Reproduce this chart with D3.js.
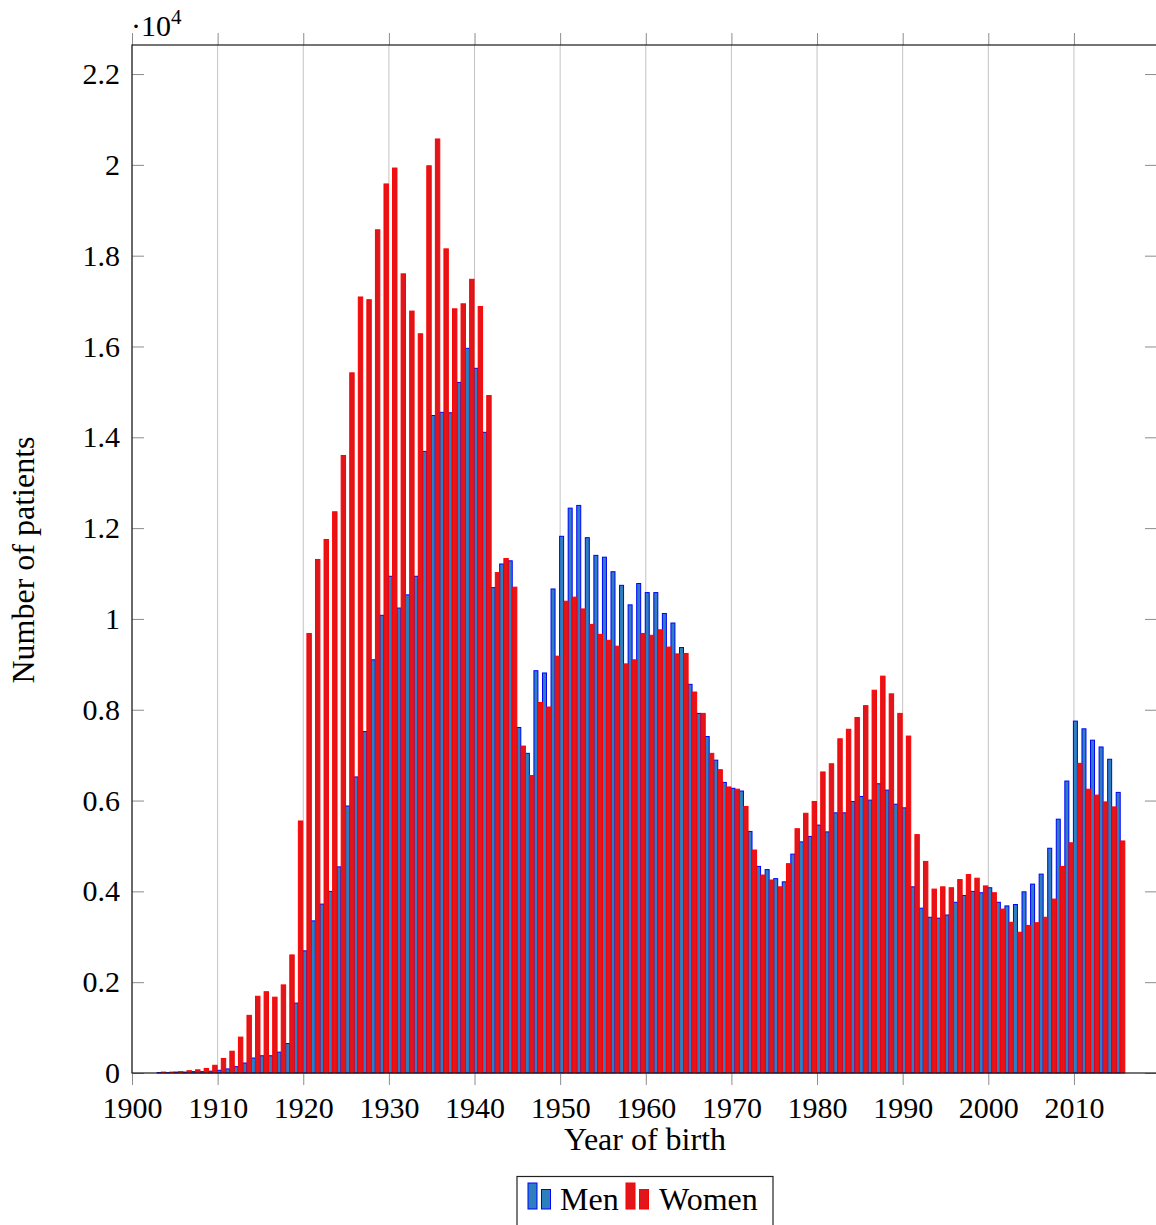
<!DOCTYPE html>
<html>
<head>
<meta charset="utf-8">
<script src="https://cdn.jsdelivr.net/npm/d3@7/dist/d3.min.js"></script>
<style>
	body { margin: 0; background: #fff; }
	svg { display: block; font-family: "Liberation Serif", "DejaVu Serif", serif; }
</style>
</head>
<body>
<svg id="chart" width="1156" height="1225"></svg>
<script>
// data, values in units of 10^4 patients, one entry per year from firstYear
const firstYear = 1904;

const men = [
	0.001, 0.001, 0.002, 0.002, 0.003, 0.003, 0.004, 0.006, 0.009, 0.014, // 1904-1913
	0.022, 0.033, 0.038, 0.038, 0.046, 0.065, 0.154, 0.269, 0.335, 0.372, // 1914-1923
	0.400, 0.454, 0.588, 0.652, 0.752, 0.910, 1.008, 1.094, 1.024, 1.053, // 1924-1933
	1.094, 1.369, 1.448, 1.455, 1.454, 1.521, 1.596, 1.552, 1.411, 1.069, // 1934-1943
	1.121, 1.128, 0.761, 0.704, 0.886, 0.881, 1.066, 1.182, 1.244, 1.250, // 1944-1953
	1.179, 1.140, 1.136, 1.104, 1.074, 1.031, 1.078, 1.058, 1.058, 1.012, // 1954-1963
	0.991, 0.937, 0.856, 0.792, 0.741, 0.689, 0.640, 0.627, 0.621, 0.532, // 1964-1973
	0.455, 0.448, 0.428, 0.421, 0.482, 0.509, 0.521, 0.546, 0.531, 0.573, // 1974-1983
	0.573, 0.598, 0.609, 0.601, 0.637, 0.623, 0.592, 0.584, 0.410, 0.363, // 1984-1993
	0.343, 0.341, 0.348, 0.376, 0.391, 0.400, 0.397, 0.408, 0.376, 0.368, // 1994-2003
	0.371, 0.399, 0.416, 0.438, 0.495, 0.559, 0.643, 0.775, 0.758, 0.733, // 2004-2013
	0.718, 0.691, 0.618                                                  // 2014-2016
];

const women = [
	0.002, 0.002, 0.003, 0.005, 0.007, 0.010, 0.017, 0.032, 0.048, 0.079, // 1904-1913
	0.127, 0.169, 0.179, 0.167, 0.194, 0.260, 0.555, 0.968, 1.131, 1.175, // 1914-1923
	1.236, 1.360, 1.542, 1.709, 1.703, 1.857, 1.958, 1.993, 1.760, 1.678, // 1924-1933
	1.628, 1.998, 2.057, 1.815, 1.683, 1.694, 1.748, 1.688, 1.492, 1.102, // 1934-1943
	1.133, 1.070, 0.720, 0.655, 0.816, 0.806, 0.918, 1.039, 1.048, 1.022, // 1944-1953
	0.988, 0.966, 0.953, 0.940, 0.901, 0.910, 0.968, 0.964, 0.976, 0.938, // 1954-1963
	0.923, 0.924, 0.839, 0.792, 0.704, 0.668, 0.630, 0.625, 0.587, 0.491, // 1964-1973
	0.436, 0.425, 0.410, 0.461, 0.538, 0.572, 0.598, 0.663, 0.681, 0.736, // 1974-1983
	0.757, 0.783, 0.809, 0.843, 0.874, 0.835, 0.792, 0.742, 0.525, 0.466, // 1984-1993
	0.405, 0.410, 0.408, 0.426, 0.437, 0.429, 0.412, 0.397, 0.361, 0.332, // 1994-2003
	0.310, 0.325, 0.331, 0.343, 0.383, 0.455, 0.507, 0.682, 0.625, 0.612, // 2004-2013
	0.597, 0.586, 0.511                                                  // 2014-2016
];

const xTicks = [1900, 1910, 1920, 1930, 1940, 1950, 1960, 1970, 1980, 1990, 2000, 2010];
const yTicks = [0, 0.2, 0.4, 0.6, 0.8, 1, 1.2, 1.4, 1.6, 1.8, 2, 2.2];
const yTickLabels = ['0', '0.2', '0.4', '0.6', '0.8', '1', '1.2', '1.4', '1.6', '1.8', '2', '2.2'];
const seriesNames = ['Men', 'Women'];

const years = men.map((d, i) => firstYear + i);

const plotLeft = 132, plotRight = 1157, plotTop = 45, plotBottom = 1073;
const tickFontSize = 30;
const labelFontSize = 32;

const colors = {
	Men: { fill: '#2d7fbd', stroke: '#0000ff' },
	Women: { fill: '#e0161a', stroke: '#ff0000' },
};

const svg = d3.select('#chart');

const x = d3.scaleLinear().domain([1900, 2019.7]).range([plotLeft, plotRight]);
const y = d3.scaleLinear().domain([0, 2.264]).range([plotBottom, plotTop]);

// vertical grid
svg.append('g')
	.attr('class', 'grid')
	.selectAll('line')
	.data(xTicks)
	.enter()
	.append('line')
	.attr('x1', d => x(d))
	.attr('x2', d => x(d))
	.attr('y1', plotTop)
	.attr('y2', plotBottom)
	.attr('stroke', '#c4c4c4')
	.attr('stroke-width', 1);

// bars, men first so women sit on top
const barSeries = [
	{ name: 'Men', values: men, offset: -9.1, width: 4 },
	{ name: 'Women', values: women, offset: -4.9, width: 4.4 },
];

barSeries.forEach(s => {
	svg.append('g')
		.attr('class', 'bars-' + s.name)
		.selectAll('rect')
		.data(s.values)
		.enter()
		.append('rect')
		.attr('x', (d, i) => x(years[i]) + s.offset)
		.attr('width', s.width)
		.attr('y', d => y(d))
		.attr('height', d => y(0) - y(d))
		.attr('fill', colors[s.name].fill)
		.attr('stroke', colors[s.name].stroke)
		.attr('stroke-width', 1);
});

// axes
const tickColor = '#8c8c8c';

const xAxis = svg.append('g')
	.attr('transform', 'translate(0,' + plotBottom + ')')
	.call(d3.axisBottom(x).tickValues(xTicks).tickFormat(d3.format('d')).tickSize(12).tickPadding(12));

const xAxisTop = svg.append('g')
	.attr('transform', 'translate(0,' + plotTop + ')')
	.call(d3.axisTop(x).tickValues(xTicks).tickFormat('').tickSize(12));

const yAxis = svg.append('g')
	.attr('transform', 'translate(' + plotLeft + ',0)')
	.call(d3.axisLeft(y).tickValues(yTicks).tickFormat((d, i) => yTickLabels[i]).tickSize(-12).tickPadding(12));

const yAxisRight = svg.append('g')
	.attr('transform', 'translate(' + plotRight + ',0)')
	.call(d3.axisRight(y).tickValues(yTicks).tickFormat('').tickSize(-12));

[xAxis, xAxisTop, yAxis, yAxisRight].forEach(a => {
	a.select('.domain').remove();
	a.selectAll('.tick line').attr('stroke', tickColor).attr('stroke-width', 1);
	a.selectAll('.tick text')
		.attr('fill', '#000')
		.style('font-size', tickFontSize + 'px')
		.style('font-family', '"Liberation Serif", "DejaVu Serif", serif');
});

// frame
svg.append('rect')
	.attr('x', plotLeft)
	.attr('y', plotTop)
	.attr('width', plotRight - plotLeft)
	.attr('height', plotBottom - plotTop)
	.attr('fill', 'none')
	.attr('stroke', '#1a1a1a')
	.attr('stroke-width', 1.2);

// scale factor
const factor = svg.append('text')
	.attr('x', 131)
	.attr('y', 36)
	.style('font-size', tickFontSize + 'px');
factor.append('tspan').text('·10');
factor.append('tspan').attr('dy', -12).style('font-size', '21px').text('4');

// axis labels
svg.append('text')
	.attr('x', 645)
	.attr('y', 1150)
	.attr('text-anchor', 'middle')
	.style('font-size', labelFontSize + 'px')
	.text('Year of birth');

svg.append('text')
	.attr('transform', 'translate(34,560) rotate(-90)')
	.attr('text-anchor', 'middle')
	.style('font-size', labelFontSize + 'px')
	.text('Number of patients');

// legend
const legend = svg.append('g').attr('class', 'legend');

legend.append('rect')
	.attr('x', 517)
	.attr('y', 1176.5)
	.attr('width', 256)
	.attr('height', 70)
	.attr('fill', '#fff')
	.attr('stroke', '#222')
	.attr('stroke-width', 1.2);

const legendPos = [{ icon: 528, text: 560 }, { icon: 626, text: 659 }];

seriesNames.forEach((name, i) => {
	const p = legendPos[i];
	[[0, 1183], [13.5, 1189.5]].forEach(b => {
		legend.append('rect')
			.attr('x', p.icon + b[0])
			.attr('y', b[1])
			.attr('width', 9)
			.attr('height', 1209 - b[1])
			.attr('fill', colors[name].fill)
			.attr('stroke', colors[name].stroke)
			.attr('stroke-width', 1);
	});
	legend.append('text')
		.attr('x', p.text)
		.attr('y', 1210)
		.style('font-size', labelFontSize + 'px')
		.text(name);
});
</script>
</body>
</html>
